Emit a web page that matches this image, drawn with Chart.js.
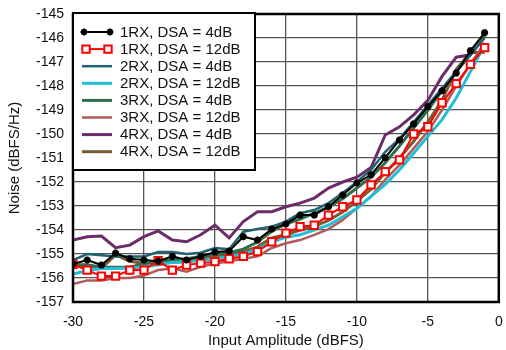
<!DOCTYPE html>
<html>
<head>
<meta charset="utf-8">
<script src="https://cdn.jsdelivr.net/npm/chart.js@4.4.1/dist/chart.umd.min.js"></script>
<style>
  html,body{margin:0;padding:0;background:#fff;}
  #wrap{width:506px;height:350px;position:relative;}
</style>
</head>
<body>
<div id="wrap"><canvas id="c" width="506" height="350"></canvas></div>
<script>
// Input amplitude (dBFS)
const amplitudes = [-30,-29,-28,-27,-26,-25,-24,-23,-22,-21,-20,-19,-18,-17,-16,-15,-14,-13,-12,-11,-10,-9,-8,-7,-6,-5,-4,-3,-2,-1];

const seriesNames = ["1RX, DSA = 4dB","1RX, DSA = 12dB","2RX, DSA = 4dB","2RX, DSA = 12dB","3RX, DSA = 4dB","3RX, DSA = 12dB","4RX, DSA = 4dB","4RX, DSA = 12dB"];

const rx1_4dB  = [-155.42,-155.25,-155.46,-154.96,-155.2,-155.25,-155.3,-155.1,-155.25,-155.1,-154.92,-154.88,-154.28,-154.42,-153.96,-153.75,-153.38,-153.38,-153.03,-152.54,-152.04,-151.7,-150.99,-150.25,-149.58,-148.86,-148.2,-147.46,-146.53,-145.78];
const rx1_12dB = [-155.43,-155.67,-155.92,-155.92,-155.67,-155.67,-155.28,-155.67,-155.46,-155.38,-155.32,-155.2,-155.1,-154.9,-154.49,-154.13,-153.86,-153.8,-153.38,-153.03,-152.75,-152.12,-151.57,-151.08,-150.0,-149.7,-148.7,-147.9,-147.1,-146.4];
const rx2_4dB  = [-155.25,-155.0,-155.05,-155.1,-155.1,-155.1,-154.92,-154.92,-155.0,-154.95,-154.75,-154.8,-154.07,-153.96,-153.86,-153.65,-153.3,-153.17,-152.88,-152.46,-152.0,-151.5,-150.74,-150.2,-149.5,-148.8,-148.1,-147.4,-146.7,-146.0];
const rx2_12dB = [-155.83,-155.7,-155.6,-155.6,-155.58,-155.53,-155.45,-155.35,-155.32,-155.27,-155.2,-155.1,-155.0,-154.8,-154.5,-154.3,-154.2,-154.0,-153.8,-153.45,-153.1,-152.6,-152.1,-151.5,-150.8,-150.1,-149.4,-148.5,-147.4,-146.3];
const rx3_4dB  = [-155.45,-155.45,-155.55,-155.55,-155.55,-155.4,-155.3,-155.25,-155.2,-155.1,-155.0,-154.95,-154.8,-154.5,-154.05,-153.75,-153.55,-153.3,-153.05,-152.7,-152.25,-151.8,-151.2,-150.5,-149.75,-149.0,-148.2,-147.4,-146.7,-145.95];
const rx3_12dB = [-156.25,-156.1,-156.1,-156.0,-156.0,-155.9,-155.67,-155.6,-155.74,-155.53,-155.4,-155.3,-155.2,-155.1,-154.75,-154.55,-154.42,-154.2,-153.96,-153.58,-153.1,-152.6,-151.9,-151.3,-150.6,-149.9,-149.0,-148.0,-147.1,-146.2];
const rx4_4dB  = [-154.42,-154.28,-154.25,-154.74,-154.63,-154.28,-154.04,-154.42,-154.49,-154.2,-153.8,-154.33,-153.65,-153.24,-153.24,-153.03,-152.88,-152.67,-152.25,-152.0,-151.8,-151.4,-150.04,-149.7,-149.2,-148.6,-147.6,-146.8,-146.7,-145.9];
const rx4_12dB = [-155.5,-155.5,-155.6,-155.04,-155.3,-155.4,-155.35,-155.35,-155.3,-155.2,-155.1,-155.0,-154.9,-154.7,-154.33,-154.2,-154.0,-153.85,-153.6,-153.25,-152.8,-152.3,-151.6,-151.0,-150.3,-149.5,-148.6,-147.3,-146.6,-146.6];

const xTicks = [-30,-25,-20,-15,-10,-5,0];
const yTicks = [-157,-156,-155,-154,-153,-152,-151,-150,-149,-148,-147,-146,-145];

const allValues = [rx1_4dB, rx1_12dB, rx2_4dB, rx2_12dB, rx3_4dB, rx3_12dB, rx4_4dB, rx4_12dB];
const colors = ['#000000','#ff0000','#1f6272','#1fc0d6','#2d6f4f','#b25a5a','#6b2c6b','#7a5a30'];
const widths = [2, 2, 2.5, 3, 3, 2.5, 3, 3];

const FONT = '"Liberation Sans", Arial, Helvetica, sans-serif';

const datasets = allValues.map((vals, i) => {
  const ds = {
    label: seriesNames[i],
    data: amplitudes.map((x, j) => ({x: x, y: vals[j]})),
    borderColor: colors[i],
    backgroundColor: colors[i],
    borderWidth: widths[i],
    pointRadius: 0,
    tension: 0,
    fill: false
  };
  if (i === 0) {
    ds.pointStyle = 'star';
    ds.pointRadius = 3.5;
    ds.pointBorderWidth = 2.5;
    ds.pointBorderColor = '#000';
  } else if (i === 1) {
    ds.pointStyle = 'rect';
    ds.pointRadius = 5.2;
    ds.pointBorderWidth = 2;
    ds.pointBorderColor = '#ff0000';
    ds.pointBackgroundColor = '#ffffff';
  }
  return ds;
});

function drawStar(ctx, x, y, r) {
  for (let k = 0; k < 4; k++) {
    const ang = k * Math.PI / 4;
    ctx.beginPath();
    ctx.moveTo(x - r * Math.cos(ang), y - r * Math.sin(ang));
    ctx.lineTo(x + r * Math.cos(ang), y + r * Math.sin(ang));
    ctx.stroke();
  }
}

const framePlugin = {
  id: 'frameLegend',
  afterDraw(chart) {
    const ctx = chart.ctx, a = chart.chartArea;
    ctx.save();
    ctx.strokeStyle = '#000';
    ctx.lineWidth = 2.5;
    ctx.strokeRect(a.left, a.top, a.right - a.left, a.bottom - a.top);
    // legend box
    const lx = a.left, ly = a.top - 1, lw = 182, lh = 157;
    ctx.fillStyle = '#fff';
    ctx.fillRect(lx, ly, lw, lh);
    ctx.strokeStyle = '#000';
    ctx.lineWidth = 2;
    ctx.strokeRect(lx, ly, lw, lh);
    ctx.font = '15px ' + FONT;
    ctx.textBaseline = 'middle';
    ctx.textAlign = 'left';
    chart.data.datasets.forEach((ds, i) => {
      const y = ly + 19 + i * 17.1;
      const x0 = lx + 9, x1 = lx + 39;
      ctx.strokeStyle = ds.borderColor;
      ctx.lineWidth = ds.borderWidth;
      ctx.beginPath(); ctx.moveTo(x0, y); ctx.lineTo(x1, y); ctx.stroke();
      if (ds.pointStyle === 'star') {
        [x0 + 2, x1 - 2].forEach(px => {
          ctx.strokeStyle = '#000'; ctx.lineWidth = 2;
          drawStar(ctx, px, y, 3.5);
          ctx.fillStyle = '#000';
          ctx.beginPath(); ctx.arc(px, y, 2.3, 0, Math.PI * 2); ctx.fill();
        });
      } else if (ds.pointStyle === 'rect') {
        [x0 + 4, x1 - 4].forEach(px => {
          const s = 3.7;
          ctx.fillStyle = '#fff'; ctx.strokeStyle = '#ff0000'; ctx.lineWidth = 2;
          ctx.beginPath(); ctx.rect(px - s, y - s, 2 * s, 2 * s); ctx.fill(); ctx.stroke();
        });
      }
      ctx.fillStyle = '#111';
      ctx.fillText(ds.label, lx + 47, y + 0.5);
    });
    ctx.restore();
  }
};

new Chart(document.getElementById('c'), {
  type: 'line',
  data: { datasets },
  options: {
    responsive: false,
    animation: false,
    devicePixelRatio: 1,
    layout: { padding: { top: 14, right: 0, left: 0, bottom: 0 } },
    plugins: { legend: { display: false }, tooltip: { enabled: false } },
    scales: {
      x: {
        type: 'linear',
        min: -30, max: 0,
        afterFit(s) { s.height = 48; s.paddingRight = 3; s.paddingLeft = 0; },
        afterBuildTicks(s) { s.ticks = xTicks.map(v => ({value: v})); },
        ticks: { color: '#111', font: { family: FONT, size: 14 }, padding: 12, maxRotation: 0 },
        grid: { color: '#555', lineWidth: 1.3, drawTicks: false },
        border: { display: false },
        title: { display: true, text: 'Input Amplitude (dBFS)', color: '#111', font: { family: FONT, size: 15 }, padding: { top: 0, bottom: 0 } }
      },
      y: {
        type: 'linear',
        min: -157, max: -145,
        afterFit(s) { s.width = 73; s.paddingTop = 0; s.paddingBottom = 0; },
        afterBuildTicks(s) { s.ticks = yTicks.map(v => ({value: v})); },
        ticks: { color: '#111', font: { family: FONT, size: 14 }, padding: 9 },
        grid: { color: '#555', lineWidth: 1.3, drawTicks: false },
        border: { display: false },
        title: { display: true, text: 'Noise (dBFS/Hz)', color: '#111', font: { family: FONT, size: 15 }, padding: { top: 6, bottom: 0 } }
      }
    }
  },
  plugins: [framePlugin]
});
</script>
</body>
</html>
